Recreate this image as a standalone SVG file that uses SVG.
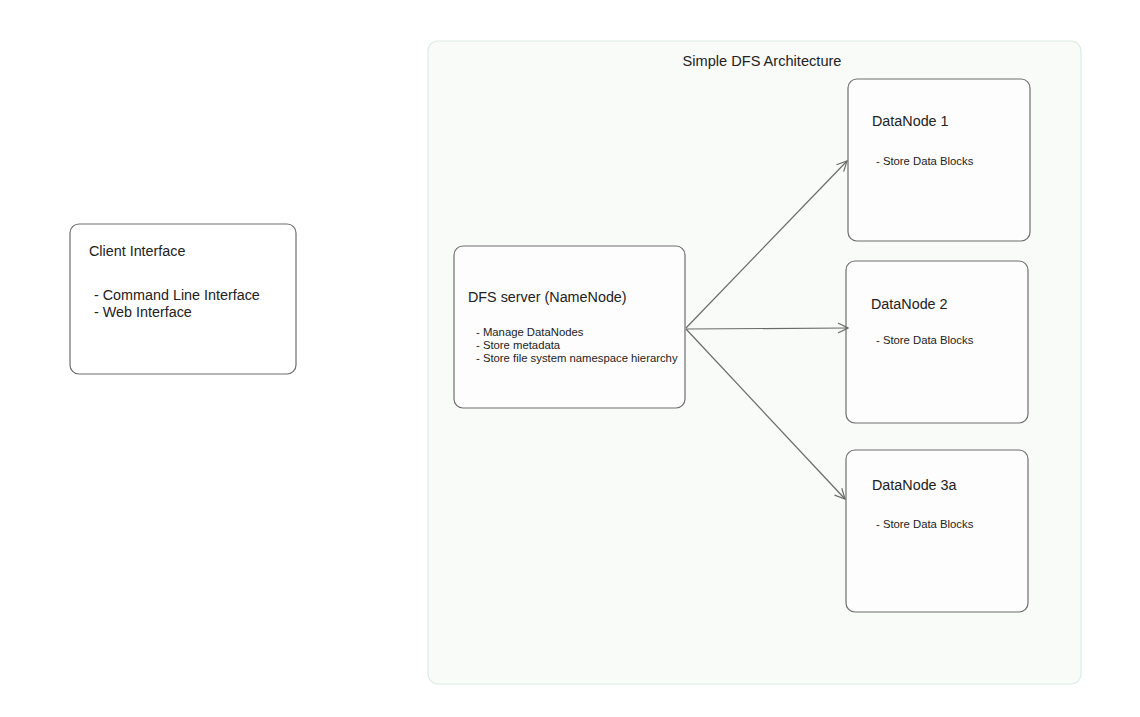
<svg xmlns="http://www.w3.org/2000/svg" width="1140" height="717" viewBox="0 0 1140 717">
<style>
.node{fill:#ffffff;fill-opacity:0.6;stroke:#6e6e6e;stroke-width:1.2}
.t{font-family:"Liberation Sans",Arial,sans-serif;fill:#222}
.h{font-size:14.35px}
.s{font-size:11.3px}
.conn{stroke:#6a6a6a;stroke-width:1.2;fill:none}
</style>
<defs>
<marker id="arr" markerWidth="12" markerHeight="12" refX="11" refY="6" orient="auto" markerUnits="userSpaceOnUse">
<path d="M1,1 L11,6 L1,11" fill="none" stroke="#6a6a6a" stroke-width="1.2"/>
</marker>
</defs>
<rect width="1140" height="717" fill="#ffffff"/>
<g id="container">
<rect x="428" y="41" width="653" height="643" rx="10" fill="#f9fbf9" stroke="#dcece3" stroke-width="1.2"/>
<text class="t" font-size="14.6" x="762" y="66" text-anchor="middle">Simple DFS Architecture</text>
</g>
<g id="client">
<rect class="node" x="70" y="224" width="226" height="150" rx="9"/>
<text class="t h" x="89" y="256">Client Interface</text>
<text class="t h" x="94" y="300">- Command Line Interface</text>
<text class="t h" x="94" y="317">- Web Interface</text>
</g>
<g id="namenode">
<rect class="node" x="454" y="246" width="231" height="162" rx="9"/>
<text class="t h" x="468" y="302">DFS server (NameNode)</text>
<text class="t s" x="476" y="336">- Manage DataNodes</text>
<text class="t s" x="476" y="349">- Store metadata</text>
<text class="t s" x="476" y="362">- Store file system namespace hierarchy</text>
</g>
<g id="datanode1">
<rect class="node" x="848" y="79" width="182" height="162" rx="9"/>
<text class="t h" x="872" y="126">DataNode 1</text>
<text class="t s" x="876" y="165">- Store Data Blocks</text>
</g>
<g id="datanode2">
<rect class="node" x="846" y="261" width="182" height="162" rx="9"/>
<text class="t h" x="871" y="309">DataNode 2</text>
<text class="t s" x="876" y="344">- Store Data Blocks</text>
</g>
<g id="datanode3a">
<rect class="node" x="846" y="450" width="182" height="162" rx="9"/>
<text class="t h" x="872" y="490">DataNode 3a</text>
<text class="t s" x="876" y="528">- Store Data Blocks</text>
</g>
<g id="connectors">
<line class="conn" x1="686" y1="328" x2="847" y2="161" marker-end="url(#arr)"/>
<line class="conn" x1="686" y1="329" x2="848" y2="328" marker-end="url(#arr)"/>
<line class="conn" x1="686" y1="329" x2="845" y2="499" marker-end="url(#arr)"/>
</g>
</svg>
